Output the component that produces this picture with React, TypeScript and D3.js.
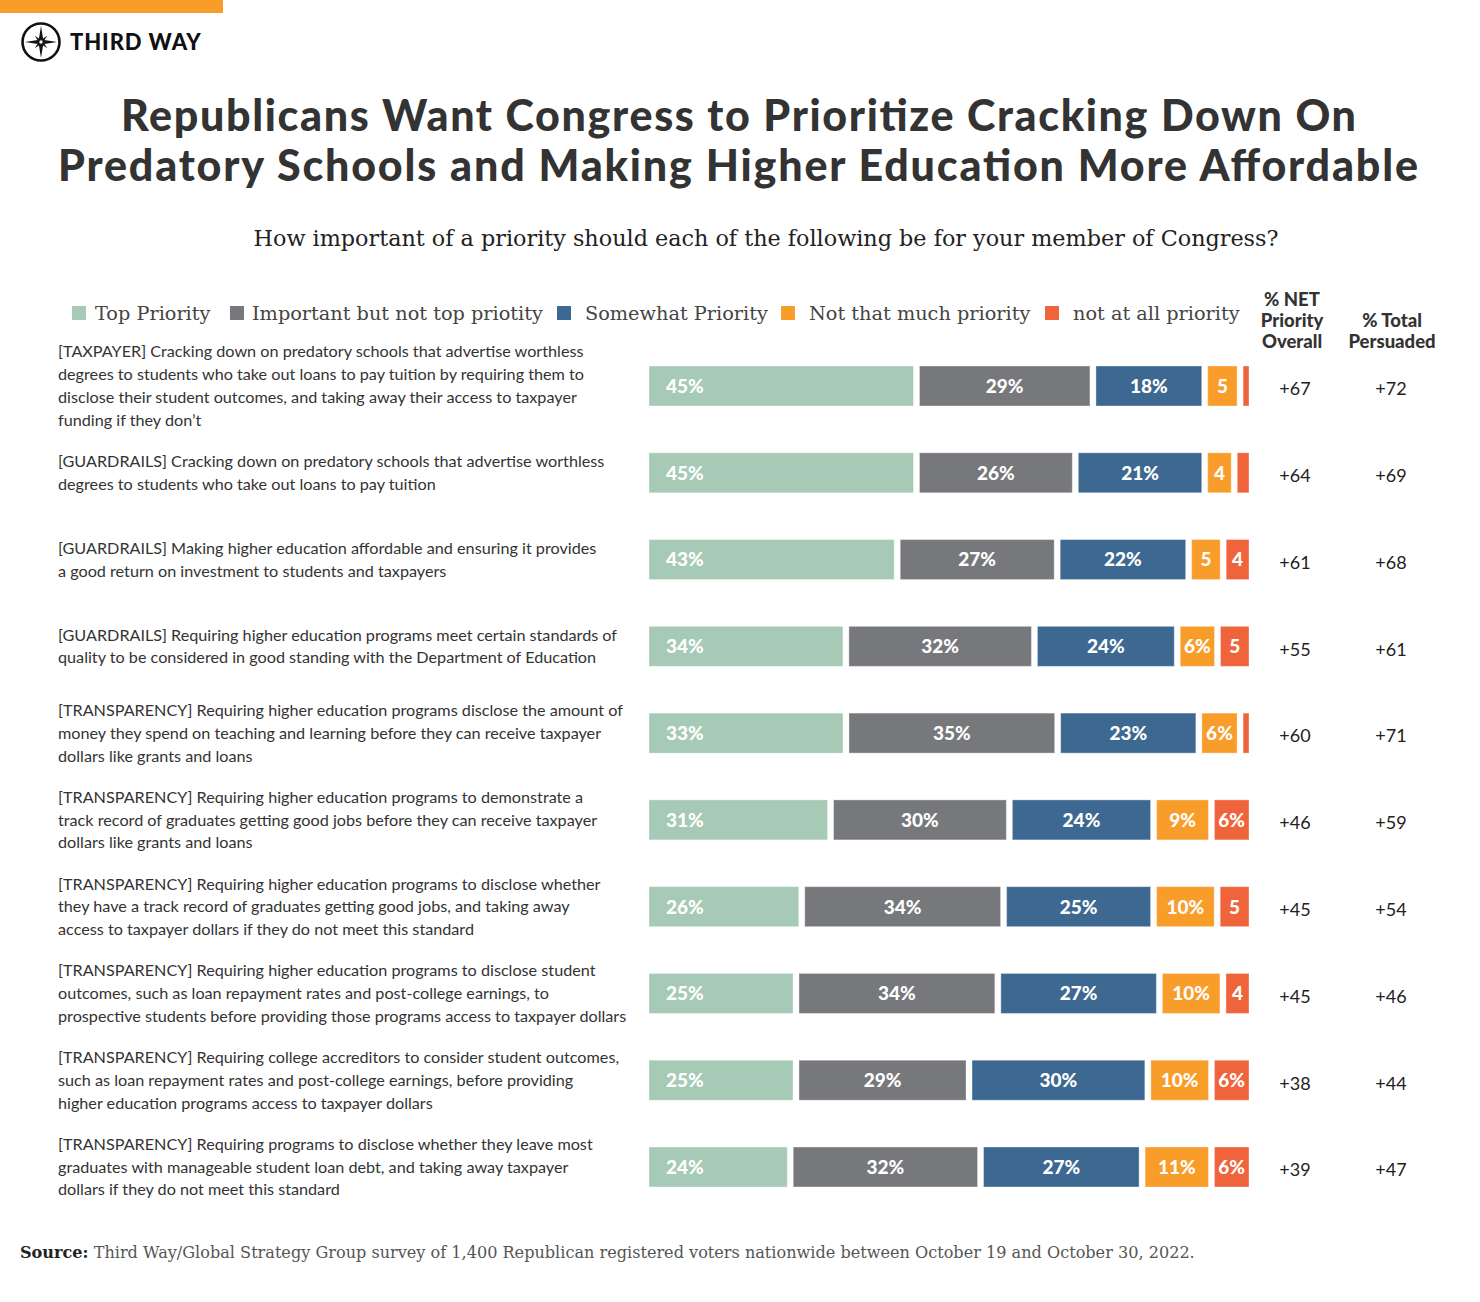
import React from "react";
import * as d3 from "d3";

const categories = ["Top Priority", "Important but not top priotity", "Somewhat Priority", "Not that much priority", "not at all priority"];
const colors = ["#a6cab6", "#77787b", "#3d6891", "#f89d2a", "#ef643a"];

const labels: string[][] = [
  ["[TAXPAYER] Cracking down on predatory schools that advertise worthless", "degrees to students who take out loans to pay tuition by requiring them to", "disclose their student outcomes, and taking away their access to taxpayer", "funding if they don\u2019t"],
  ["[GUARDRAILS] Cracking down on predatory schools that advertise worthless", "degrees to students who take out loans to pay tuition"],
  ["[GUARDRAILS] Making higher education affordable and ensuring it provides", "a good return on investment to students and taxpayers"],
  ["[GUARDRAILS] Requiring higher education programs meet certain standards of", "quality to be considered in good standing with the Department of Education"],
  ["[TRANSPARENCY] Requiring higher education programs disclose the amount of", "money they spend on teaching and learning before they can receive taxpayer", "dollars like grants and loans"],
  ["[TRANSPARENCY] Requiring higher education programs to demonstrate a", "track record of graduates getting good jobs before they can receive taxpayer", "dollars like grants and loans"],
  ["[TRANSPARENCY] Requiring higher education programs to disclose whether", "they have a track record of graduates getting good jobs, and taking away", "access to taxpayer dollars if they do not meet this standard"],
  ["[TRANSPARENCY] Requiring higher education programs to disclose student", "outcomes, such as loan repayment rates and post-college earnings, to", "prospective students before providing those programs access to taxpayer dollars"],
  ["[TRANSPARENCY] Requiring college accreditors to consider student outcomes,", "such as loan repayment rates and post-college earnings, before providing", "higher education programs access to taxpayer dollars"],
  ["[TRANSPARENCY] Requiring programs to disclose whether they leave most", "graduates with manageable student loan debt, and taking away taxpayer", "dollars if they do not meet this standard"],
];

const topPriority = [45, 45, 43, 34, 33, 31, 26, 25, 25, 24];
const important = [29, 26, 27, 32, 35, 30, 34, 34, 29, 32];
const somewhat = [18, 21, 22, 24, 23, 24, 25, 27, 30, 27];
const notMuch = [5, 4, 5, 6, 6, 9, 10, 10, 10, 11];
const notAtAll = [1, 2, 4, 5, 1, 6, 5, 4, 6, 6];
const netPriority = [67, 64, 61, 55, 60, 46, 45, 45, 38, 39];
const totalPersuaded = [72, 69, 68, 61, 71, 59, 54, 46, 44, 47];

const series = [topPriority, important, somewhat, notMuch, notAtAll];

const W = 1480, H = 1302;
const barX0 = 649, barX1 = 1249, gap = 6, barH = 40;
const sansFont = "Lato, 'Open Sans', sans-serif";
const serifFont = "'DejaVu Serif', serif";
const legendX = [72, 230, 557, 781, 1045];

function segLabel(v: number, i: number) {
  if (i >= 3) {
    if (v <= 2) return "";
    if (v < 6) return `${v}`;
  }
  return `${v}%`;
}

export default function App() {
  const y = d3.scalePoint<number>().domain(d3.range(labels.length)).range([386, 1167]);
  const rows = labels.map((_, r) => {
    const vals = series.map((s) => s[r]);
    const total = d3.sum(vals);
    const x = d3.scaleLinear().domain([0, total]).range([barX0, barX1 - gap * (vals.length - 1)]);
    let cum = 0;
    return vals.map((v, i) => {
      const x0 = x(cum) + i * gap;
      cum += v;
      const x1 = x(cum) + i * gap;
      return { v, i, x0, x1 };
    });
  });

  const cx = 41, cy = 42;
  const star = d3.range(8).map((k) => {
    const a = (k * Math.PI) / 4;
    const len = k % 2 === 0 ? 16 : 9;
    const w = k % 2 === 0 ? 2.6 : 1.8;
    const tip: [number, number] = [cx + len * Math.sin(a), cy - len * Math.cos(a)];
    const l: [number, number] = [cx + w * Math.sin(a - Math.PI / 2), cy - w * Math.cos(a - Math.PI / 2)];
    const rr: [number, number] = [cx + w * Math.sin(a + Math.PI / 2), cy - w * Math.cos(a + Math.PI / 2)];
    return d3.line()([l, tip, rr, [cx, cy]]) + "Z";
  });

  return (
    <svg width={W} height={H} style={{ position: "absolute", left: 0, top: 0, background: "#fff" }}>
      <rect x={0} y={0} width={W} height={H} fill="#fff" />
      <rect x={0} y={0} width={223} height={13} fill="#f89d2a" />
      <circle cx={cx} cy={cy} r={18.5} fill="none" stroke="#111" strokeWidth={2.6} />
      {star.map((d, k) => (
        <path key={k} d={d} fill="#111" />
      ))}
      <circle cx={cx} cy={cy} r={2.2} fill="#fff" stroke="#111" strokeWidth={1} />
      <text x={70} y={50} fontFamily={sansFont} fontWeight={900} fontSize={22} letterSpacing={0.9} fill="#111">THIRD WAY</text>

      <g fontFamily={sansFont} fontWeight={900} fontSize={43} fill="#333">
        <text x={121} y={131} textLength={1235} lengthAdjust="spacing">Republicans Want Congress to Prioritize Cracking Down On</text>
        <text x={58} y={181} textLength={1360} lengthAdjust="spacing">Predatory Schools and Making Higher Education More Affordable</text>
      </g>
      <text x={766} y={246} textAnchor="middle" fontFamily={serifFont} fontSize={22.3} fill="#222">
        How important of a priority should each of the following be for your member of Congress?
      </text>

      {categories.map((c, i) => (
        <g key={c}>
          <rect x={legendX[i]} y={306} width={14} height={14} fill={colors[i]} />
          <text x={legendX[i] + (i === 0 ? 23 : i === 1 ? 22 : 28)} y={320} fontFamily={serifFont} fontSize={19.3} fill="#444">{c}</text>
        </g>
      ))}

      <g fontFamily={sansFont} fontWeight={900} fontSize={18.5} fill="#333" textAnchor="middle">
        <text x={1292} y={306}>% NET</text>
        <text x={1292} y={327}>Priority</text>
        <text x={1292} y={348}>Overall</text>
        <text x={1392} y={327}>% Total</text>
        <text x={1392} y={348}>Persuaded</text>
      </g>

      {labels.map((lines, r) => {
        const cy0 = y(r)! - ((lines.length - 1) * 22.8) / 2;
        return (
          <g key={r}>
            <text fontFamily={sansFont} fontSize={16.2} fill="#333">
              {lines.map((ln, k) => (
                <tspan key={k} x={58} y={cy0 + k * 22.8} dy="0.35em">{ln}</tspan>
              ))}
            </text>
            {rows[r].map((s) => (
              <g key={s.i}>
                <rect x={s.x0} y={y(r)! - barH / 2} width={s.x1 - s.x0} height={barH} fill={colors[s.i]} stroke="#fff" strokeOpacity={0.35} strokeWidth={1} />
                <text
                  x={s.i === 0 ? s.x0 + 17 : (s.x0 + s.x1) / 2}
                  y={y(r)!}
                  dy="0.36em"
                  textAnchor={s.i === 0 ? "start" : "middle"}
                  fontFamily={sansFont}
                  fontWeight={900}
                  fontSize={19}
                  fill="#fff"
                >
                  {segLabel(s.v, s.i)}
                </text>
              </g>
            ))}
            <text x={1295} y={y(r)! + 3} dy="0.35em" textAnchor="middle" fontFamily={sansFont} fontSize={18} fill="#222">+{netPriority[r]}</text>
            <text x={1391} y={y(r)! + 3} dy="0.35em" textAnchor="middle" fontFamily={sansFont} fontSize={18} fill="#222">+{totalPersuaded[r]}</text>
          </g>
        );
      })}

      <text x={20} y={1258} fontFamily={serifFont} fontSize={16.1} fill="#555">
        <tspan fontWeight={700} fill="#222">Source:</tspan>
        <tspan> Third Way/Global Strategy Group survey of 1,400 Republican registered voters nationwide between October 19 and October 30, 2022.</tspan>
      </text>
    </svg>
  );
}
